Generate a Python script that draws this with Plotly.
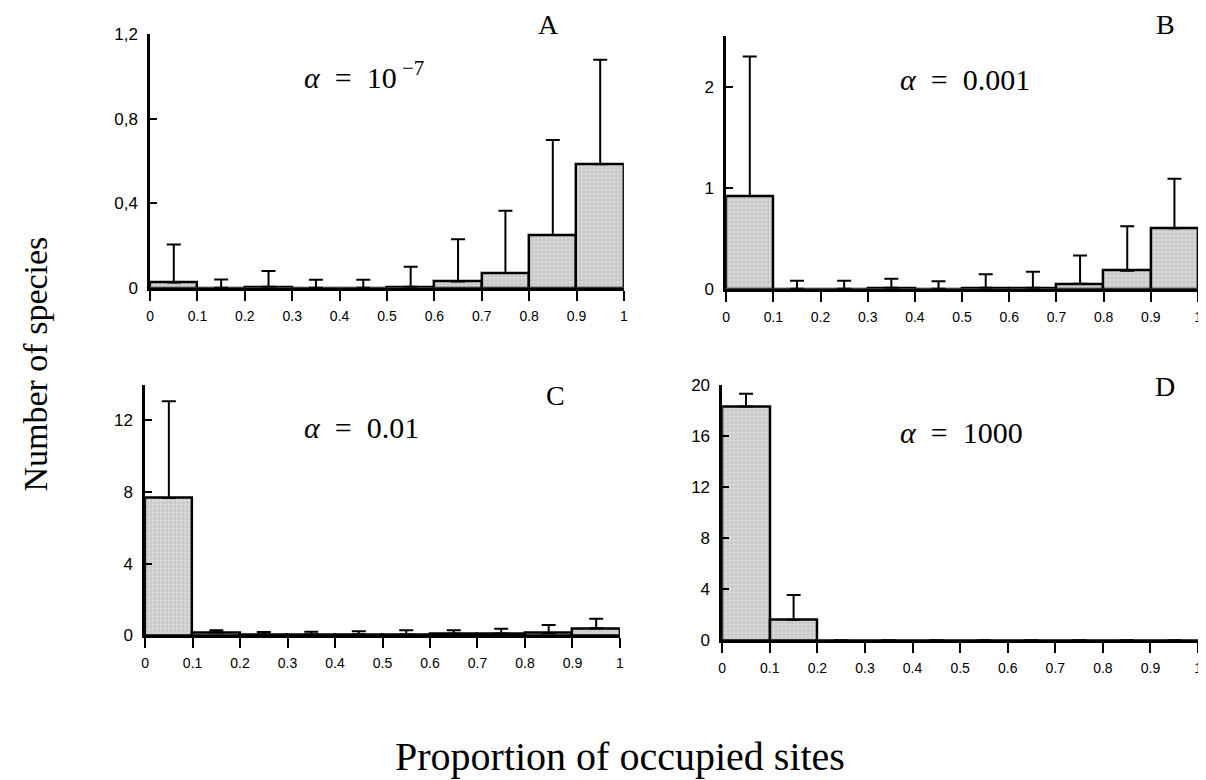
import plotly.graph_objects as go

# ---------------- data ----------------
bin_centers = [0.05, 0.15, 0.25, 0.35, 0.45, 0.55, 0.65, 0.75, 0.85, 0.95]
x_tick_vals = [0, 0.1, 0.2, 0.3, 0.4, 0.5, 0.6, 0.7, 0.8, 0.9, 1]
x_tick_text = ["0", "0.1", "0.2", "0.3", "0.4", "0.5", "0.6", "0.7", "0.8", "0.9", "1"]

# Panel A: alpha = 1e-7
a_values = [0.025, 0.0, 0.005, 0.0, 0.0, 0.005, 0.03, 0.07, 0.25, 0.585]
a_errors = [0.18, 0.04, 0.075, 0.038, 0.038, 0.095, 0.20, 0.295, 0.45, 0.495]
a_ytick_vals = [0, 0.4, 0.8, 1.2]
a_ytick_text = ["0", "0,4", "0,8", "1,2"]

# Panel B: alpha = 0.001
b_values = [0.92, 0.0, 0.0, 0.01, 0.0, 0.01, 0.01, 0.05, 0.18, 0.60]
b_errors = [1.38, 0.08, 0.08, 0.09, 0.075, 0.135, 0.16, 0.28, 0.44, 0.49]
b_ytick_vals = [0, 1, 2, 2.5]
b_ytick_text = ["0", "1", "2", ""]

# Panel C: alpha = 0.01
c_values = [7.67, 0.15, 0.05, 0.05, 0.05, 0.05, 0.08, 0.10, 0.12, 0.39]
c_errors = [5.41, 0.13, 0.14, 0.15, 0.17, 0.23, 0.20, 0.27, 0.46, 0.54]
c_ytick_vals = [0, 4, 8, 12, 14]
c_ytick_text = ["0", "4", "8", "12", ""]

# Panel D: alpha = 1000
d_values = [18.3, 1.6, 0, 0, 0, 0, 0, 0, 0, 0]
d_errors = [1.0, 1.95, None, None, None, None, None, None, None, None]
d_ytick_vals = [0, 4, 8, 12, 16, 20]
d_ytick_text = ["0", "4", "8", "12", "16", "20"]

panel_letters = ["A", "B", "C", "D"]
alpha_labels = ["<i>α</i>  =  10<sup> −7</sup>", "<i>α</i>  =  0.001",
                "<i>α</i>  =  0.01", "<i>α</i>  =  1000"]
y_title = "Number of species"
x_title = "Proportion of occupied sites"

# ---------------- layout geometry (target page pixels) ----------------
OFFX = 8
OFFY = 16.7
SY = 0.977
W, H = 1198, 772
panels = [
    dict(vals=a_values, errs=a_errors, yr=[0, 1.2], ytv=a_ytick_vals, ytt=a_ytick_text,
         x0=147, x1=624, ybot=288, ytop=34, letter=(548, 16), lab=(300, 75)),
    dict(vals=b_values, errs=b_errors, yr=[0, 2.5], ytv=b_ytick_vals, ytt=b_ytick_text,
         x0=727, x1=1202, ybot=289, ytop=36, letter=(1169, 22), lab=(900, 79)),
    dict(vals=c_values, errs=c_errors, yr=[0, 14], ytv=c_ytick_vals, ytt=c_ytick_text,
         x0=142, x1=620, ybot=636, ytop=385, letter=(555, 396), lab=(300, 428)),
    dict(vals=d_values, errs=d_errors, yr=[0, 20], ytv=d_ytick_vals, ytt=d_ytick_text,
         x0=723, x1=1202, ybot=641, ytop=385, letter=(1169, 387), lab=(900, 433)),
]


def px_x(v):
    return (v - OFFX) / W


def px_y(v):
    fy = (v - OFFY) / SY
    return 1 - fy / H


fig = go.Figure()
layout = dict(
    width=W, height=H, margin=dict(l=0, r=0, t=0, b=0),
    paper_bgcolor="white", plot_bgcolor="white", showlegend=False,
    bargap=0, annotations=[],
)

tick_font = dict(family="Liberation Sans, Arial, sans-serif", size=14, color="black")
ytick_font = dict(family="Liberation Sans, Arial, sans-serif", size=17, color="black")
serif = "Liberation Serif, Times New Roman, serif"

for i, p in enumerate(panels):
    n = i + 1
    xa = "x" if n == 1 else f"x{n}"
    ya = "y" if n == 1 else f"y{n}"
    fig.add_trace(go.Bar(
        x=bin_centers, y=p["vals"], width=0.1, xaxis=xa, yaxis=ya,
        marker=dict(color="#cfcfcf",
                    line=dict(color="black", width=2.5),
                    pattern=dict(shape="+", fgcolor="#8a8a8a", bgcolor="#dcdcdc",
                                 size=4, solidity=0.3)),
        error_y=dict(type="data", array=p["errs"], arrayminus=[0] * 10, symmetric=False,
                     color="black", thickness=2, width=7),
        cliponaxis=False,
    ))
    xdom = [px_x(p["x0"]), min(1.0, px_x(p["x1"]))]
    ydom = [px_y(p["ybot"]), min(1.0, px_y(p["ytop"]))]
    layout[f"xaxis{'' if n == 1 else n}"] = dict(
        domain=xdom, anchor=ya, range=[0, 1], tickvals=x_tick_vals, ticktext=x_tick_text,
        ticks="outside", ticklen=10, tickwidth=2, tickcolor="black",
        showline=True, linewidth=3, linecolor="black", showgrid=False, zeroline=False,
        tickfont=tick_font, ticklabelstandoff=3, fixedrange=True,
    )
    layout[f"yaxis{'' if n == 1 else n}"] = dict(
        domain=ydom, anchor=xa, range=p["yr"], tickvals=p["ytv"], ticktext=p["ytt"],
        ticks="inside", ticklen=7, tickwidth=2, tickcolor="black",
        showline=True, linewidth=2.5, linecolor="black", showgrid=False, zeroline=False,
        tickfont=ytick_font, ticklabelstandoff=6, fixedrange=True,
    )
    # overlay axes to give crossing tick marks
    on = n + 4
    layout[f"xaxis{on}"] = dict(
        domain=xdom, anchor=ya, overlaying=xa, range=[0, 1], tickvals=x_tick_vals,
        ticks="inside", ticklen=4, tickwidth=2, tickcolor="black",
        showticklabels=False, showline=False, showgrid=False, zeroline=False,
    )
    layout[f"yaxis{on}"] = dict(
        domain=ydom, anchor=xa, overlaying=ya, range=p["yr"], tickvals=p["ytv"],
        ticks="outside", ticklen=4, tickwidth=2, tickcolor="black",
        showticklabels=False, showline=False, showgrid=False, zeroline=False,
    )
    layout["annotations"].append(dict(
        text=panel_letters[i], xref="paper", yref="paper",
        x=px_x(p["letter"][0]), y=min(0.99, px_y(p["letter"][1])),
        xanchor="center", yanchor="middle",
        showarrow=False, font=dict(family=serif, size=28, color="black")))
    layout["annotations"].append(dict(
        text=alpha_labels[i], xref="paper", yref="paper",
        x=px_x(p["lab"][0]), y=px_y(p["lab"][1]), xanchor="left", yanchor="middle",
        showarrow=False, font=dict(family=serif, size=30, color="black")))

layout["annotations"].append(dict(
    text=y_title, xref="paper", yref="paper", x=px_x(32), y=px_y(364),
    xanchor="center", yanchor="middle", textangle=-90, showarrow=False,
    font=dict(family=serif, size=34, color="black")))
layout["annotations"].append(dict(
    text=x_title, xref="paper", yref="paper", x=px_x(620), y=px_y(757),
    xanchor="center", yanchor="middle", showarrow=False,
    font=dict(family=serif, size=40, color="black")))

fig.update_layout(**layout)
fig.write_html("out.html")
